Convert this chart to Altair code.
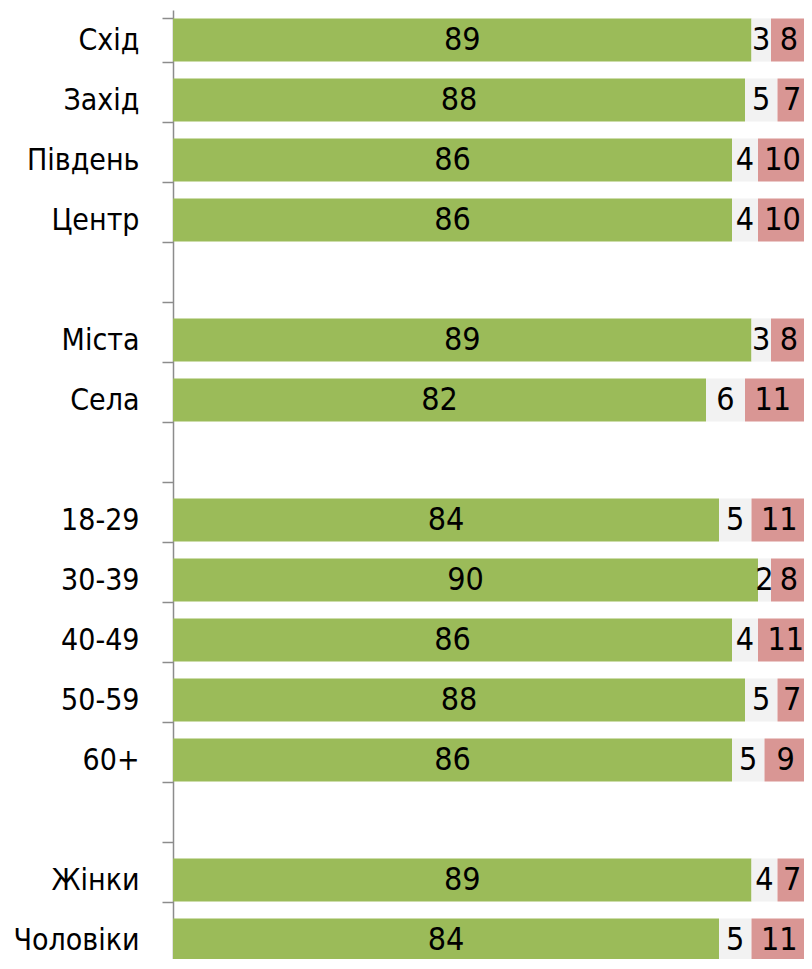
import altair as alt
import pandas as pd

categories = ["Схід", "Захід", "Південь", "Центр", " ",
              "Міста", "Села", "  ",
              "18-29", "30-39", "40-49", "50-59", "60+", "   ",
              "Жінки", "Чоловіки"]
green_vals = [89, 88, 86, 86, None, 89, 82, None, 84, 90, 86, 88, 86, None, 89, 84]
gray_vals = [3, 5, 4, 4, None, 3, 6, None, 5, 2, 4, 5, 5, None, 4, 5]
pink_vals = [8, 7, 10, 10, None, 8, 11, None, 11, 8, 11, 7, 9, None, 7, 11]

series_names = ["green", "gray", "pink"]
series_colors = ["#9BBB59", "#F2F2F2", "#D99694"]

rows = []
for i, cat in enumerate(categories):
    if green_vals[i] is None:
        continue
    start = 0
    for name, vals in zip(series_names, [green_vals, gray_vals, pink_vals]):
        v = vals[i]
        rows.append({"cat": cat, "series": name, "value": v,
                     "start": start, "end": start + v, "mid": start + v / 2})
        start += v
df = pd.DataFrame(rows)

FONT = "Arial Narrow, Liberation Sans Narrow, DejaVu Sans Condensed, sans-serif"
FS_AXIS = 30
FS_NUM = 32

y_enc = alt.Y("cat:N", sort=categories,
              scale=alt.Scale(domain=categories, paddingInner=0.28, paddingOuter=0.14),
              axis=alt.Axis(title=None, tickBand="extent", tickSize=11, tickColor="#8c8c8c",
                            domainColor="#8c8c8c", domainWidth=1.5, tickWidth=1.5,
                            labelFont=FONT, labelFontSize=FS_AXIS, labelColor="#000000",
                            labelPadding=23, grid=False))

x_scale = alt.Scale(domain=[0, 100], nice=False, zero=True)

base = alt.Chart(df)

bars = base.mark_bar().encode(
    y=y_enc,
    x=alt.X("start:Q", scale=x_scale, axis=None),
    x2="end:Q",
    color=alt.Color("series:N", scale=alt.Scale(domain=series_names, range=series_colors), legend=None),
)

labels_main = base.transform_filter(alt.datum.series != "pink").mark_text(
    font=FONT, fontSize=FS_NUM, color="#000000", align="center", baseline="middle").encode(
    y=alt.Y("cat:N", sort=categories),
    x=alt.X("mid:Q", scale=x_scale, axis=None),
    text="value:Q",
)

labels_pink = base.transform_filter(alt.datum.series == "pink").mark_text(
    font=FONT, fontSize=FS_NUM, color="#000000", align="center", baseline="middle", dx=-8).encode(
    y=alt.Y("cat:N", sort=categories),
    x=alt.X("mid:Q", scale=x_scale, axis=None),
    text="value:Q",
)

chart = alt.layer(bars, labels_main, labels_pink).properties(
    width=650, height=960,
    autosize=alt.AutoSizeParams(type="none"),
    padding={"left": 165, "top": 2, "right": -19, "bottom": -11},
    background="#ffffff",
).configure_view(stroke=None)

chart.save("out.html", embed_options={"renderer": "svg", "actions": False})
